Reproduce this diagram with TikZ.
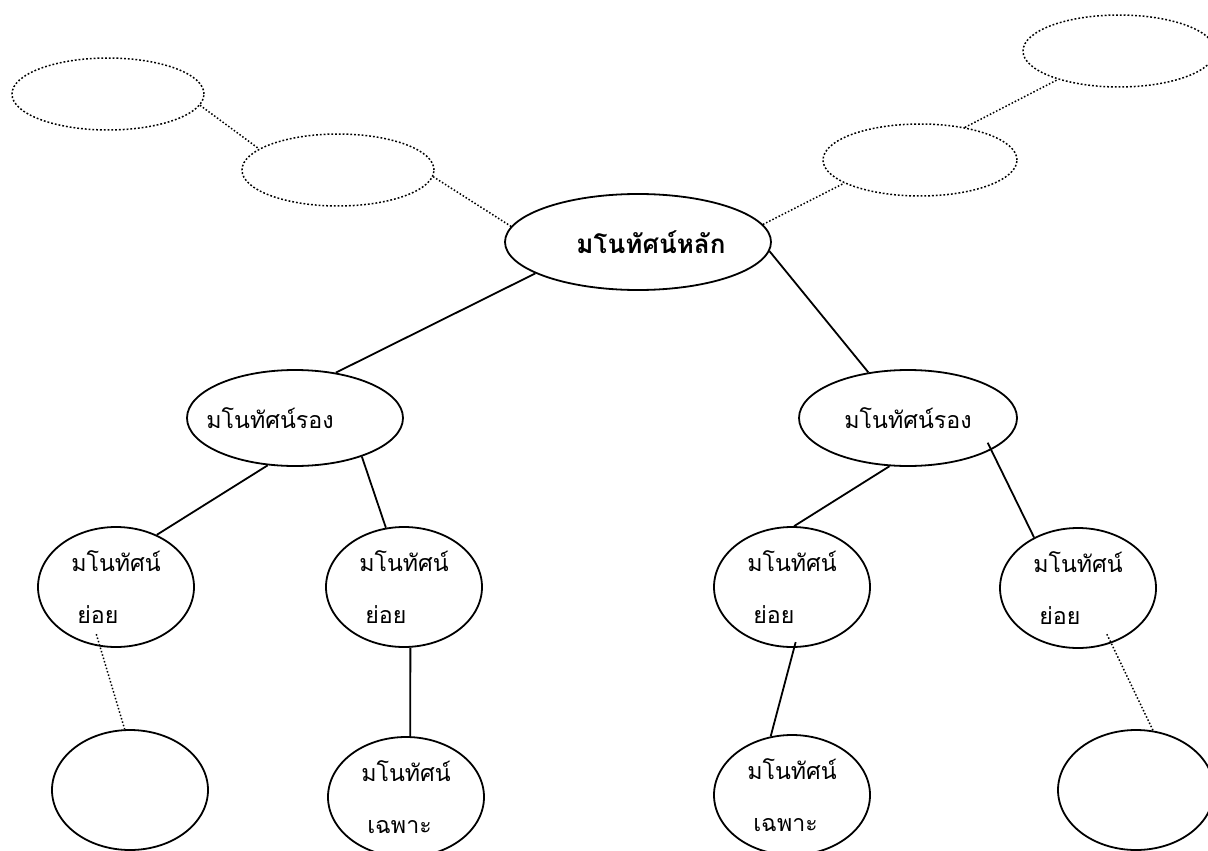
\documentclass[tikz,border=0pt]{standalone}
\usepackage{fontspec}
\newfontfamily\thaifont[Script=Thai]{Loma}
\usetikzlibrary{shapes.geometric}

\begin{document}
\begin{tikzpicture}[x=0.5pt, y=-0.5pt, line width=0.9pt,
	every node/.style={font=\thaifont\fontsize{11.6}{26}\selectfont, inner sep=0pt},
	oval/.style={draw, ellipse, line width=0.9pt},
	ghost/.style={oval, densely dotted, line width=0.75pt, minimum width=96pt, minimum height=36pt},
	twig/.style={oval, minimum width=78pt, minimum height=60pt, align=left},
	dots/.style={densely dotted, line width=0.75pt}]
		\useasboundingbox (0,0) rectangle (1208,850);
		\path
		(638,242) node[oval, minimum width=133pt, minimum height=48pt, font=\thaifont\bfseries\fontsize{13}{26}\selectfont] (O) {\makebox[0pt]{\hspace*{13pt}มโนทัศน์หลัก}}
		(108,94) node[ghost] (A) {}
		(338,170) node[ghost] (B) {}
		(1119,51) node[ghost] (C) {}
		(920,160) node[ghost, minimum width=97pt] (D) {}
		
		(295,418) node[oval, minimum width=108pt, minimum height=48pt] (E) {\makebox[0pt]{มโนทัศน์รอง\hspace*{25pt}}}
		(908,418) node[oval, minimum width=109pt, minimum height=48pt] (F) {มโนทัศน์รอง}
		
		(116,587) node[twig] (G) {มโนทัศน์\\\hspace*{3pt}ย่อย}
		(404,587) node[twig] (H) {มโนทัศน์\\\hspace*{3pt}ย่อย}
		(792,587) node[twig] (I) {มโนทัศน์\\\hspace*{3pt}ย่อย}
		(1078,588) node[twig] (J) {มโนทัศน์\\\hspace*{3pt}ย่อย}
		
		(130,790) node[twig] (K) {}
		(406,797) node[twig] (L) {มโนทัศน์\\\hspace*{3pt}เฉพาะ}
		(792,795) node[twig] (N) {มโนทัศน์\\\hspace*{3pt}เฉพาะ}
		(1136,790) node[twig] (P) {}
		;
		\draw[dots] (A.-7) -- (B.165);
		\draw[dots] (B.-4) -- (O.173);
		\draw[dots] (O.8) -- (D.197);
		\draw[dots] (D.36) -- (C.205);
		
		\draw (O.197) -- (E.48);
		\draw (O.-4) -- (F.131);
		
		\draw (E.240) -- (G.52);
		\draw (E.-30) -- (H.107);
		\draw (F.249) -- (I.88);
		\draw[shorten <=-4pt] (F.-21) -- (J.131);
		
		\draw[dots, shorten <=-6.5pt] (G.255) -- (K.95);
		\draw (H.276) -- (L.86);
		\draw[shorten <=-3pt] (I.272) -- (N.110);
		\draw[dots, shorten <=-5pt] (J.-59) -- (P.74);
	\end{tikzpicture}
\end{document}
